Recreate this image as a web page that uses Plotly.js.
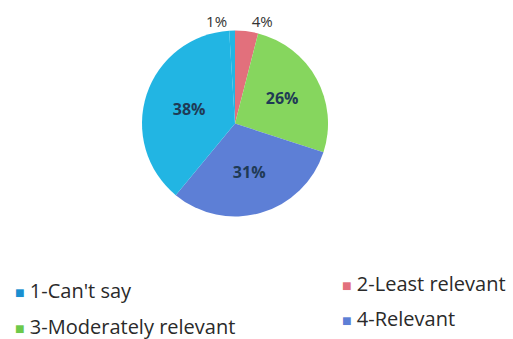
<!DOCTYPE html>
<html><head><meta charset="utf-8">
<script src="https://cdn.plot.ly/plotly-3.0.1.min.js"></script>
<style>body{margin:0;background:#fff}#c{width:513px;height:339px}</style>
</head><body><div id="c"></div>
<script>
// slices in clockwise order starting at 12 o'clock
var labels = ["2-Least relevant", "3-Moderately relevant", "4-Relevant", "1-Can't say", "5-Other"];
var values = [4, 26, 31, 38, 1];
var colors = ["#e2707c", "#86d65e", "#5d7fd6", "#22b5e3", "#22b5e3"];
var positions = ["outside", "inside", "inside", "inside", "outside"];
var legendLabels = ["1-Can't say", "2-Least relevant", "3-Moderately relevant", "4-Relevant"];
var legendColors = ["#1a8fd0", "#e2707c", "#6cc94a", "#5d7fd6"];

var templates = positions.map(function(p) { return p === "inside" ? "<b>%{percent:.0%}</b>" : "%{percent:.0%}"; });

var trace = {
  type: "pie", labels: labels, values: values, sort: false, direction: "clockwise", rotation: 0,
  marker: {colors: colors, line: {width: 0}},
  textinfo: "percent", textposition: positions,
  texttemplate: templates,
  insidetextfont: {family: "Open Sans, sans-serif", size: 16, color: "#1f3a55"},
  outsidetextfont: {family: "Open Sans, sans-serif", size: 15, color: "#333"},
  domain: {x: [0.2768, 0.6394], y: [0.36, 0.9115]},
  showlegend: false, hoverinfo: "none"
};

var legX = [0.025, 0.662, 0.025, 0.662];
var legY = [0.143, 0.165, 0.038, 0.06];
var annotations = legendLabels.map(function(l, i) {
  return {x: legX[i], y: legY[i], xref: "paper", yref: "paper", xanchor: "left", yanchor: "middle",
    showarrow: false, text: '<span style="color:' + legendColors[i] + ';font-size:16px">■</span> ' + l,
    font: {family: "Open Sans, sans-serif", size: 20, color: "#2a2a2a"}};
});

Plotly.newPlot("c", [trace], {
  width: 513, height: 339, margin: {l: 0, r: 0, t: 0, b: 0},
  paper_bgcolor: "#fff", annotations: annotations, showlegend: false
}, {staticPlot: true});
</script></body></html>
